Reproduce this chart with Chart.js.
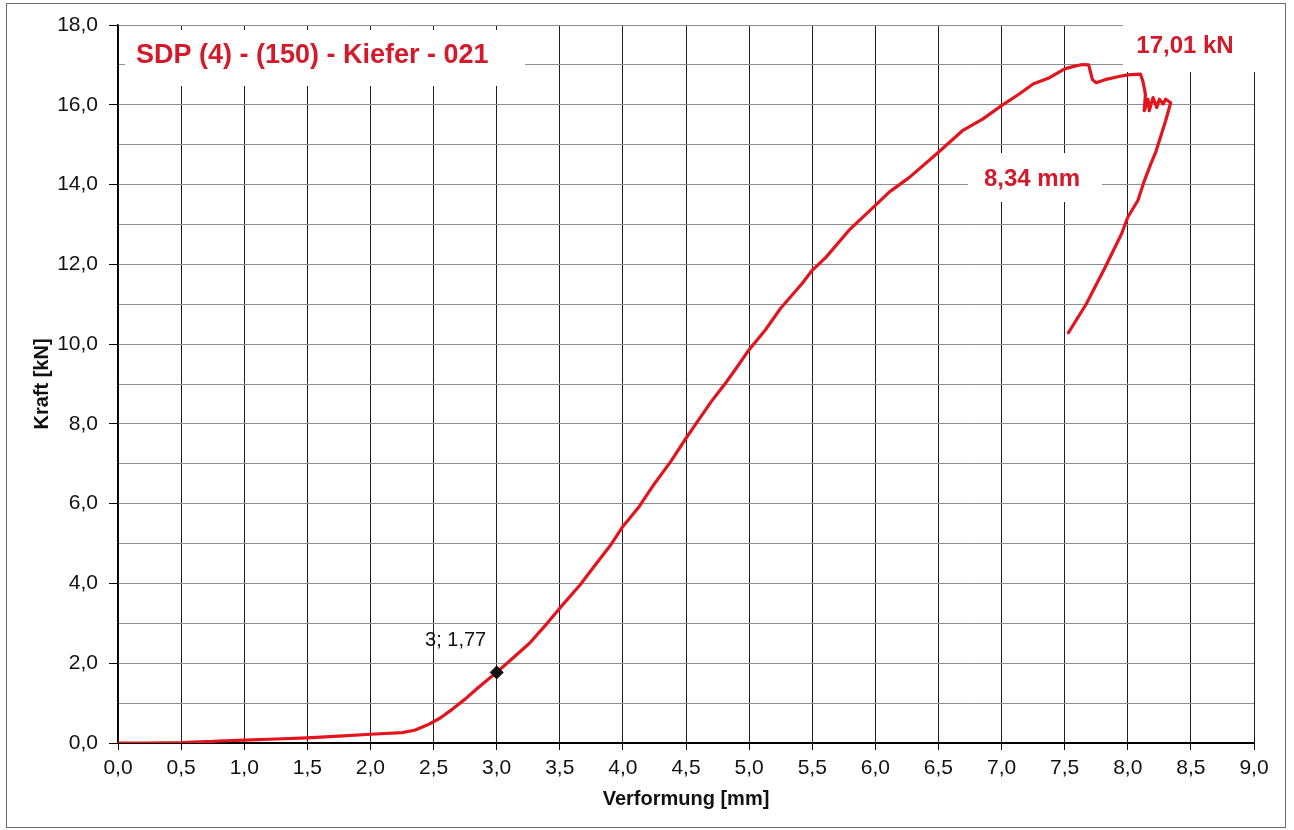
<!DOCTYPE html>
<html>
<head>
<meta charset="utf-8">
<script src="https://cdn.jsdelivr.net/npm/chart.js@4.4.1/dist/chart.umd.min.js"></script>
<style>
  html, body { margin: 0; padding: 0; background: #fff; }
  #wrap { width: 1294px; height: 830px; }
  canvas { display: block; }
</style>
</head>
<body>
<div id="wrap"><canvas id="chart" width="1294" height="830"></canvas></div>
<script>
// Load-deformation record of the test specimen (path order, incl. unloading branch)
const deformationMm = [
  0, 0.25, 0.5, 0.75, 0.8, 1.0, 1.25, 1.5, 1.75, 2.0, 2.25, 2.35, 2.45, 2.55, 2.65, 2.75, 2.85, 2.95,
  3.0, 3.1, 3.26, 3.4, 3.5, 3.66, 3.79, 3.9, 4.0, 4.13, 4.25, 4.38, 4.5, 4.6, 4.71, 4.82, 4.91, 5.0,
  5.13, 5.25, 5.42, 5.5, 5.61, 5.79, 6.0, 6.11, 6.27, 6.5, 6.69, 6.85, 7.0, 7.14, 7.25, 7.38, 7.5,
  7.58, 7.64, 7.69, 7.72, 7.75, 7.82, 7.93, 8.0, 8.1, 8.12, 8.14, 8.13, 8.16, 8.17, 8.2, 8.23, 8.25,
  8.28, 8.3, 8.34, 8.3, 8.26, 8.22, 8.18, 8.13, 8.08, 8.0, 7.95, 7.82, 7.67, 7.53
];
const forceKn = [
  0, 0, 0.01, 0.04, 0.05, 0.07, 0.1, 0.13, 0.17, 0.22, 0.26, 0.32, 0.45, 0.62, 0.85, 1.1, 1.38, 1.64,
  1.77, 2.05, 2.5, 3.0, 3.38, 3.96, 4.5, 4.95, 5.43, 5.93, 6.5, 7.06, 7.64, 8.1, 8.6, 9.05, 9.45, 9.86,
  10.36, 10.9, 11.52, 11.85, 12.18, 12.85, 13.48, 13.81, 14.18, 14.81, 15.35, 15.64, 15.98, 16.27, 16.52, 16.68, 16.9,
  16.97, 17.01, 17.0, 16.63, 16.55, 16.63, 16.71, 16.75, 16.77, 16.59, 16.26, 15.85, 16.14, 15.85, 16.18, 15.93, 16.14,
  16.02, 16.14, 16.05, 15.6, 15.2, 14.8, 14.5, 14.08, 13.6, 13.18, 12.76, 11.92, 11.0, 10.29
];

// Marked reading on the curve
const markerDeformation = [3];
const markerForce = [1.77];
const markerLabel = '3; 1,77';

// Headline texts
const titleText = 'SDP (4) - (150) - Kiefer - 021';
const maxForceLabel = '17,01 kN';
const maxDeformationLabel = '8,34 mm';

// Axes
const xAxisTitle = 'Verformung [mm]';
const yAxisTitle = 'Kraft [kN]';
const xMin = 0, xMax = 9, xStep = 0.5;
const yMin = 0, yMax = 18, yStep = 1, yLabelStep = 2;

const RED_LINE = '#e2141d';
const RED_TEXT = '#d41a2a';

const fmt1 = v => Number(v).toFixed(1).replace('.', ',');

const curve = deformationMm.map((x, i) => ({ x, y: forceKn[i] }));
const marker = markerDeformation.map((x, i) => ({ x, y: markerForce[i] }));

// White label panels on the plot plus the annotation texts
const annotationPlugin = {
  id: 'annotations',
  beforeDraw(chart) {
    const ctx = chart.ctx;
    ctx.save();
    ctx.fillStyle = '#ffffff';
    ctx.fillRect(0, 0, chart.width, chart.height);
    ctx.strokeStyle = '#6a6a6a';
    ctx.lineWidth = 1;
    ctx.strokeRect(6.5, 3.5, 1279, 824);
    ctx.restore();
  },
  beforeDatasetsDraw(chart) {
    const ctx = chart.ctx;
    const xs = chart.scales.x, ys = chart.scales.y;
    ctx.save();
    // panels that keep the texts clear of the grid
    ctx.fillStyle = '#ffffff';
    ctx.fillRect(125, 30, 400, 56);
    ctx.fillRect(1123, 20, 140, 52);
    ctx.fillRect(968, 153, 134, 49);

    ctx.fillStyle = RED_TEXT;
    ctx.textBaseline = 'middle';
    ctx.textAlign = 'left';
    ctx.font = 'bold 27px "Liberation Sans", Arial, sans-serif';
    ctx.fillText(titleText, 136, 56);

    ctx.font = 'bold 24px "Liberation Sans", Arial, sans-serif';
    ctx.textAlign = 'center';
    ctx.fillText(maxForceLabel, 1185, 46);
    ctx.fillText(maxDeformationLabel, 1032, 179);

    // value label next to the marked point
    const px = xs.getPixelForValue(markerDeformation[0]);
    const py = ys.getPixelForValue(markerForce[0]);
    ctx.fillStyle = '#111';
    ctx.font = '20px "Liberation Sans", Arial, sans-serif';
    ctx.textAlign = 'center';
    ctx.fillText(markerLabel, px - 41, py - 32);
    ctx.restore();
  }
};

new Chart(document.getElementById('chart'), {
  type: 'scatter',
  data: {
    datasets: [
      {
        data: marker,
        showLine: false,
        pointStyle: 'rectRot',
        pointRadius: 6.5,
        backgroundColor: '#111',
        borderColor: '#111',
        borderWidth: 1
      },
      {
        data: curve,
        showLine: true,
        borderColor: RED_LINE,
        borderWidth: 3.2,
        tension: 0,
        pointRadius: 0,
        fill: false,
        borderJoinStyle: 'round',
        borderCapStyle: 'round'
      }
    ]
  },
  options: {
    responsive: false,
    animation: false,
    devicePixelRatio: 1,
    layout: { padding: { left: 8, right: 40, top: 25, bottom: 0 } },
    plugins: { legend: { display: false }, tooltip: { enabled: false } },
    scales: {
      x: {
        type: 'linear',
        min: xMin, max: xMax,
        afterFit(scale) { scale.height = 87; },
        border: { color: '#000', width: 2 },
        grid: { color: '#1e1e1e', lineWidth: 1, drawTicks: true, tickLength: 7, tickColor: '#000' },
        ticks: {
          stepSize: xStep,
          autoSkip: false,
          maxRotation: 0,
          padding: 6,
          color: '#111',
          font: { family: '"Liberation Sans", Arial, sans-serif', size: 21 },
          callback: v => fmt1(v)
        },
        title: {
          display: true,
          text: xAxisTitle,
          color: '#111',
          font: { family: '"Liberation Sans", Arial, sans-serif', size: 20, weight: 'bold' },
          padding: { top: 0, bottom: 19 }
        }
      },
      y: {
        type: 'linear',
        min: yMin, max: yMax,
        afterFit(scale) { scale.width = 110; },
        border: { color: '#000', width: 1.5 },
        grid: {
          color: '#8e8e8e',
          lineWidth: 1,
          drawTicks: true,
          tickLength: 9,
          tickColor: ctx => (Math.round(ctx.tick.value) % yLabelStep === 0 ? '#000' : 'rgba(0,0,0,0)')
        },
        ticks: {
          stepSize: yStep,
          autoSkip: false,
          padding: 11,
          color: '#111',
          font: { family: '"Liberation Sans", Arial, sans-serif', size: 21 },
          callback: v => (Math.round(v) % yLabelStep === 0 ? fmt1(v) : '')
        },
        title: {
          display: true,
          text: yAxisTitle,
          color: '#111',
          font: { family: '"Liberation Sans", Arial, sans-serif', size: 20, weight: 'bold' },
          padding: { top: 22, bottom: 0 }
        }
      }
    }
  },
  plugins: [annotationPlugin]
});
</script>
</body>
</html>
